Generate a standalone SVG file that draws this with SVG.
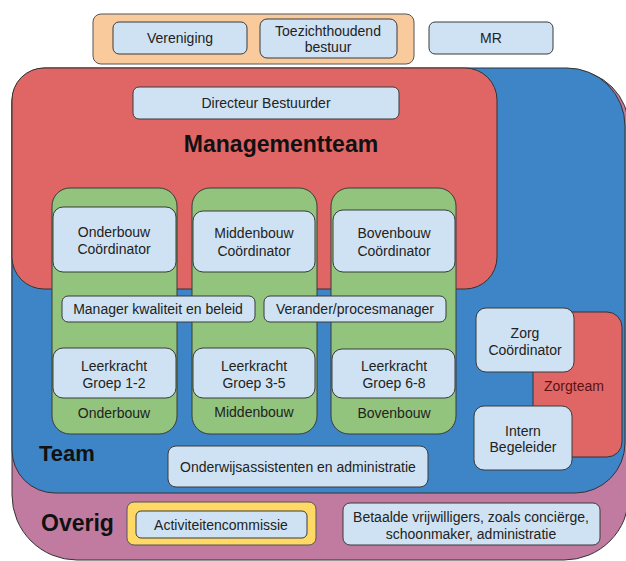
<svg xmlns="http://www.w3.org/2000/svg" width="626" height="561" viewBox="0 0 626 561">
  <style>
    text { font-family: "Liberation Sans", Arial, sans-serif; font-size: 14px; fill: #222; text-anchor: middle; }
    .big { font-size: 23px; font-weight: bold; fill: #111; }
    .left { text-anchor: start; }
    .zone { stroke: #333; stroke-width: 1; }
    .box { fill: #cfe2f3; stroke: #3a3a3a; stroke-width: 1; }
    .col { fill: #93c47d; stroke: #3a3a3a; stroke-width: 1; }
    .zorg { fill: #5b1212; }
  </style>

  <!-- Overig (outer zone) -->
  <g id="overig">
    <path class="zone" fill="#c27ba0" d="M45 70 H571 A58 58 0 0 1 629 128 V495 A65 65 0 0 1 564 560 H77 A65 65 0 0 1 12 495 V103 A33 33 0 0 1 45 70 Z"/>
  </g>

  <!-- Team zone -->
  <g id="team">
    <path class="zone" fill="#3d85c6" d="M45 68 H567 A58 58 0 0 1 625 126 V443 A50 50 0 0 1 575 493 H55 A43 43 0 0 1 12 450 V101 A33 33 0 0 1 45 68 Z"/>
  </g>

  <!-- Managementteam zone -->
  <g id="managementteam">
    <rect class="zone" fill="#e06666" x="12" y="68" width="485" height="221" rx="32"/>
    <text class="big" x="281" y="152">Managementteam</text>
  </g>

  <!-- Zorgteam -->
  <g id="zorgteam">
    <rect class="zone" fill="#e06666" x="533" y="312" width="89" height="145" rx="15"/>
    <text class="zorg" x="574" y="391">Zorgteam</text>
  </g>

  <!-- Governance on top -->
  <g id="bestuur">
    <rect fill="#f9cb9c" stroke="#555" stroke-width="1" x="93" y="14" width="321" height="50" rx="8"/>
  </g>
  <g id="vereniging">
    <rect class="box" x="113" y="22" width="134" height="32" rx="6"/>
    <text x="180" y="43">Vereniging</text>
  </g>
  <g id="toezichthoudend-bestuur">
    <rect class="box" x="260" y="19" width="137" height="39" rx="7"/>
    <text x="328" y="36">Toezichthoudend</text>
    <text x="328" y="52">bestuur</text>
  </g>
  <g id="mr">
    <rect class="box" x="429" y="22" width="124" height="32" rx="6"/>
    <text x="491" y="43">MR</text>
  </g>

  <g id="directeur">
    <rect class="box" x="133" y="87" width="266" height="32" rx="6"/>
    <text x="266" y="108">Directeur Bestuurder</text>
  </g>

  <!-- Bouw columns -->
  <g id="onderbouw">
    <rect class="col" x="52" y="188" width="125" height="246" rx="18"/>
    <text x="114" y="418">Onderbouw</text>
  </g>
  <g id="middenbouw">
    <rect class="col" x="192" y="188" width="125" height="246" rx="18"/>
    <text x="254" y="417">Middenbouw</text>
  </g>
  <g id="bovenbouw">
    <rect class="col" x="331" y="188" width="125" height="246" rx="18"/>
    <text x="394" y="418">Bovenbouw</text>
  </g>

  <g id="onderbouw-coordinator">
    <rect class="box" x="53" y="207" width="123" height="65" rx="10"/>
    <text x="114" y="237">Onderbouw</text>
    <text x="114" y="254">Coördinator</text>
  </g>
  <g id="middenbouw-coordinator">
    <rect class="box" x="193" y="211" width="122" height="61" rx="10"/>
    <text x="254" y="238">Middenbouw</text>
    <text x="254" y="256">Coördinator</text>
  </g>
  <g id="bovenbouw-coordinator">
    <rect class="box" x="333" y="210" width="122" height="62" rx="10"/>
    <text x="394" y="238">Bovenbouw</text>
    <text x="394" y="256">Coördinator</text>
  </g>

  <g id="manager-kwaliteit">
    <rect class="box" x="62" y="296" width="193" height="26" rx="6"/>
    <text x="158" y="314">Manager kwaliteit en beleid</text>
  </g>
  <g id="procesmanager">
    <rect class="box" x="264" y="296" width="182" height="26" rx="6"/>
    <text x="355" y="314">Verander/procesmanager</text>
  </g>

  <g id="leerkracht-1-2">
    <rect class="box" x="53" y="348" width="123" height="50" rx="10"/>
    <text x="114" y="371">Leerkracht</text>
    <text x="114" y="388">Groep 1-2</text>
  </g>
  <g id="leerkracht-3-5">
    <rect class="box" x="193" y="348" width="122" height="50" rx="10"/>
    <text x="254" y="371">Leerkracht</text>
    <text x="254" y="388">Groep 3-5</text>
  </g>
  <g id="leerkracht-6-8">
    <rect class="box" x="332" y="349" width="123" height="49" rx="10"/>
    <text x="394" y="371">Leerkracht</text>
    <text x="394" y="388">Groep 6-8</text>
  </g>

  <g id="zorg-coordinator">
    <rect class="box" x="476" y="308" width="98" height="64" rx="10"/>
    <text x="525" y="338">Zorg</text>
    <text x="525" y="355">Coördinator</text>
  </g>
  <g id="intern-begeleider">
    <rect class="box" x="474" y="406" width="98" height="64" rx="10"/>
    <text x="523" y="436">Intern</text>
    <text x="523" y="452">Begeleider</text>
  </g>

  <g id="team-label">
    <text class="big left" x="39" y="461" style="font-size:22px">Team</text>
  </g>
  <g id="onderwijsassistenten">
    <rect class="box" x="168" y="446" width="260" height="41" rx="8"/>
    <text x="298" y="472">Onderwijsassistenten en administratie</text>
  </g>

  <g id="overig-label">
    <text class="big left" x="41" y="531">Overig</text>
  </g>
  <g id="activiteitencommissie">
    <rect fill="#ffd966" stroke="#555" stroke-width="1" x="127" y="502" width="189" height="43" rx="7"/>
    <rect class="box" x="136" y="511" width="171" height="27" rx="5"/>
    <text x="221" y="530">Activiteitencommissie</text>
  </g>
  <g id="vrijwilligers">
    <rect class="box" x="343" y="503" width="257" height="42" rx="7"/>
    <text x="471" y="522">Betaalde vrijwilligers, zoals conciërge,</text>
    <text x="471" y="539">schoonmaker, administratie</text>
  </g>
</svg>
